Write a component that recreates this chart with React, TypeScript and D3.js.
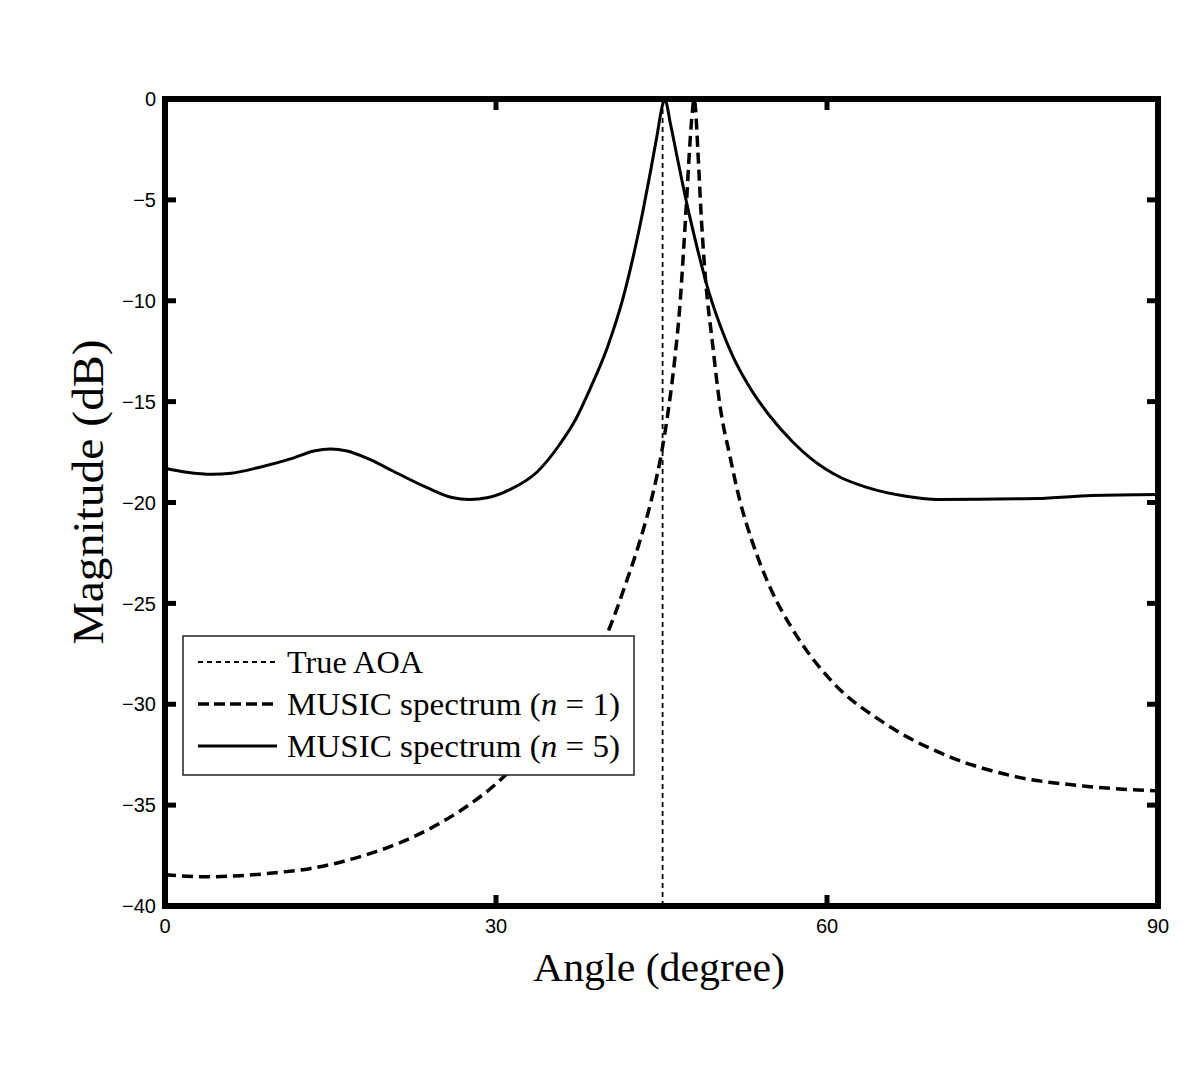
import { useEffect, useRef } from "react";
import * as d3 from "d3";

// angle (deg) / magnitude (dB)
const n1Angle = [0, 3.8, 6.8, 10, 13.1, 17.7, 22.2, 26.7, 30.1, 33, 36, 38, 40.0, 41.9, 43.05, 44.2, 45.05, 45.6, 46.2, 46.7, 47.0, 47.3, 47.6, 47.8, 47.95, 48.1, 48.3, 48.6, 49.0, 49.6, 50.3, 51.2, 52.1, 53.2, 55, 56.9, 60.5, 65.1, 71.1, 77.2, 83.2, 90];
const n1Mag = [-38.45, -38.55, -38.5, -38.35, -38.15, -37.55, -36.65, -35.3, -33.9, -32.3, -30.3, -28.6, -26.6, -23.8, -21.9, -19.6, -17.4, -15.5, -12.9, -10.0, -7.5, -4.8, -2.0, -0.6, 0, -0.6, -2.6, -5.8, -9.0, -12.0, -15.2, -17.7, -19.9, -21.9, -24.4, -26.3, -28.9, -30.9, -32.6, -33.6, -34.05, -34.3];

const n5Angle = [0, 2, 4.3, 6, 8.6, 11.6, 13.5, 15, 16.5, 18.5, 20.7, 23.7, 26, 27.6, 29.3, 31.3, 33.7, 35.8, 37.2, 38.5, 40.1, 41.5, 42.4, 43.3, 44.0, 44.6, 45.05, 45.3, 45.8, 46.5, 47.3, 48.2, 49.2, 50.3, 51.5, 53, 54.8, 56.9, 58.5, 61.2, 63.6, 67.3, 70, 79, 84, 90];
const n5Mag = [-18.3, -18.5, -18.6, -18.55, -18.25, -17.8, -17.45, -17.35, -17.45, -17.85, -18.45, -19.25, -19.75, -19.85, -19.75, -19.35, -18.5, -17.1, -15.9, -14.4, -12.3, -9.9, -7.9, -5.6, -3.6, -1.8, -0.4, 0, -1.2, -3.1, -5.2, -7.3, -9.4, -11.2, -12.8, -14.3, -15.7, -17.0, -17.8, -18.75, -19.25, -19.7, -19.85, -19.8, -19.65, -19.6];

const trueAOA = 45.1;

const xTicks = [0, 30, 60, 90];
const yTicks = [0, -5, -10, -15, -20, -25, -30, -35, -40];

const legendLabels = ["True AOA", "MUSIC spectrum (", "MUSIC spectrum ("];
const legendN = ["", "1", "5"];

function SpectrumChart() {
    const ref = useRef<SVGSVGElement>(null);

    useEffect(() => {
        const svg = d3.select(ref.current);
        svg.selectAll("*").remove();

        const left = 165, right = 1158, top = 99, bottom = 906;
        const x = d3.scaleLinear().domain([0, 90]).range([left, right]);
        const y = d3.scaleLinear().domain([-40, 0]).range([bottom, top]);

        const line = d3.line<[number, number]>()
            .x(d => x(d[0]))
            .y(d => y(d[1]))
            .curve(d3.curveMonotoneX);

        const n1 = n1Angle.map((a, i) => [a, n1Mag[i]] as [number, number]);
        const n5 = n5Angle.map((a, i) => [a, n5Mag[i]] as [number, number]);

        svg.append("path")
            .attr("d", line(n1))
            .attr("fill", "none")
            .attr("stroke", "#000")
            .attr("stroke-width", 3.5)
            .attr("stroke-dasharray", "11,6");

        svg.append("path")
            .attr("d", line(n5))
            .attr("fill", "none")
            .attr("stroke", "#000")
            .attr("stroke-width", 3);

        svg.append("line")
            .attr("x1", x(trueAOA)).attr("x2", x(trueAOA))
            .attr("y1", y(-40)).attr("y2", y(0))
            .attr("stroke", "#000")
            .attr("stroke-width", 1.8)
            .attr("stroke-dasharray", "5,4");

        // frame + inward ticks on all four sides
        const frame = svg.append("g");
        frame.append("rect")
            .attr("x", left).attr("y", top)
            .attr("width", right - left).attr("height", bottom - top)
            .attr("fill", "none")
            .attr("stroke", "#000")
            .attr("stroke-width", 6);

        const tl = 11;
        yTicks.forEach(v => {
            frame.append("line").attr("x1", left).attr("x2", left + tl)
                .attr("y1", y(v)).attr("y2", y(v))
                .attr("stroke", "#000").attr("stroke-width", 5);
            frame.append("line").attr("x1", right).attr("x2", right - tl)
                .attr("y1", y(v)).attr("y2", y(v))
                .attr("stroke", "#000").attr("stroke-width", 5);
        });
        xTicks.forEach(v => {
            frame.append("line").attr("x1", x(v)).attr("x2", x(v))
                .attr("y1", bottom).attr("y2", bottom - tl)
                .attr("stroke", "#000").attr("stroke-width", 5);
            frame.append("line").attr("x1", x(v)).attr("x2", x(v))
                .attr("y1", top).attr("y2", top + tl)
                .attr("stroke", "#000").attr("stroke-width", 5);
        });

        const fmt = d3.format("d");
        frame.selectAll(".ylab").data(yTicks).enter().append("text")
            .attr("x", 156)
            .attr("y", d => y(d))
            .attr("dy", "0.36em")
            .attr("text-anchor", "end")
            .attr("font-family", "Liberation Sans, Arial, sans-serif")
            .attr("font-size", 20)
            .text(d => fmt(d));

        frame.selectAll(".xlab").data(xTicks).enter().append("text")
            .attr("x", d => x(d))
            .attr("y", 933)
            .attr("text-anchor", "middle")
            .attr("font-family", "Liberation Sans, Arial, sans-serif")
            .attr("font-size", 20)
            .text(d => fmt(d));

        // axis titles
        svg.append("text")
            .attr("x", 659).attr("y", 981)
            .attr("text-anchor", "middle")
            .attr("font-family", "Liberation Serif, Times New Roman, serif")
            .attr("font-size", 40)
            .attr("textLength", 252)
            .attr("lengthAdjust", "spacingAndGlyphs")
            .text("Angle (degree)");

        svg.append("text")
            .attr("transform", "translate(103,492) rotate(-90)")
            .attr("text-anchor", "middle")
            .attr("font-family", "Liberation Serif, Times New Roman, serif")
            .attr("font-size", 45)
            .attr("textLength", 305)
            .attr("lengthAdjust", "spacingAndGlyphs")
            .text("Magnitude (dB)");

        // legend
        const lg = svg.append("g");
        lg.append("rect")
            .attr("x", 183).attr("y", 636)
            .attr("width", 451).attr("height", 139)
            .attr("fill", "#fff")
            .attr("stroke", "#222")
            .attr("stroke-width", 1.5);

        const rowY = [662, 704, 746];
        const dashes = ["5,4", "11,5", null];
        const widths = [1.8, 3.5, 3];
        const textLen = [136, 333, 333];
        rowY.forEach((ry, i) => {
            const l = lg.append("line")
                .attr("x1", 198).attr("x2", 277)
                .attr("y1", ry).attr("y2", ry)
                .attr("stroke", "#000")
                .attr("stroke-width", widths[i]);
            if (dashes[i]) l.attr("stroke-dasharray", dashes[i] as string);

            const t = lg.append("text")
                .attr("x", 287).attr("y", ry + 11)
                .attr("font-family", "Liberation Serif, Times New Roman, serif")
                .attr("font-size", 31)
                .attr("textLength", textLen[i])
                .attr("lengthAdjust", "spacingAndGlyphs");
            t.append("tspan").text(legendLabels[i]);
            if (legendN[i]) {
                t.append("tspan").attr("font-style", "italic").text("n");
                t.append("tspan").text(" = " + legendN[i] + ")");
            }
        });
    }, []);

    return (
        <svg
            ref={ref}
            width={1200}
            height={1079}
            style={{ position: "absolute", left: 0, top: 0, background: "#fff" }}
        />
    );
}

export default function App() {
    return <SpectrumChart />;
}
